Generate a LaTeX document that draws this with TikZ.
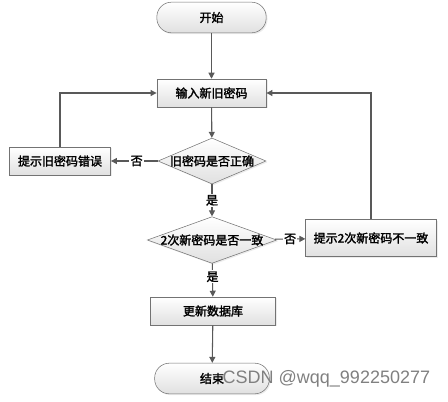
\documentclass[tikz,border=0pt]{standalone}
\usepackage{fontspec}
\newfontfamily\cjk[AutoFakeBold=2]{Noto Sans CJK SC}
\newfontfamily\wmfont{Liberation Sans}
\usetikzlibrary{shapes.geometric,arrows.meta,shadows}

\tikzset{
	box/.style={draw=black!55, rectangle, top color=white, bottom color=black!12,
		drop shadow={shadow xshift=1pt, shadow yshift=-1pt, fill=black!15},
		font=\cjk\bfseries\fontsize{9}{9}\selectfont, minimum height=21pt, inner sep=2pt},
	term/.style={box, rounded corners=11pt, minimum height=23pt},
	check/.style={draw=black!55, diamond, top color=white, bottom color=black!12,
		drop shadow={shadow xshift=1pt, shadow yshift=-1pt, fill=black!15},
		inner sep=0pt},
	flow/.style={draw=black!65, line width=0.8pt, -{Triangle[width=4.5pt,length=4.5pt]}},
	tag/.style={fill=white, inner sep=1pt, font=\cjk\bfseries\fontsize{9}{9}\selectfont}
}

\begin{document}
\begin{tikzpicture}[x=0.75pt, y=-0.75pt]
	\useasboundingbox (0,0) rectangle (448,401);
	
	% main column
	\node[term, minimum width=82pt] (start) at (211.5,17.5) {开始};
	\node[box, minimum width=82pt] (input) at (211.5,93) {输入新旧密码};
	\node[check, minimum width=81pt, minimum height=34.5pt,
		label={[font=\cjk\bfseries\fontsize{9}{9}\selectfont]center:旧密码是否正确}] (oldok) at (212,161) {};
	\node[check, minimum width=97pt, minimum height=35pt,
		label={[font=\cjk\bfseries\fontsize{9}{9}\selectfont]center:2次新密码是否一致}] (newok) at (212,240) {};
	\node[box, minimum width=94pt] (update) at (213,311) {更新数据库};
	\node[term, minimum width=86pt] (stop) at (212,378.5) {结束};
	
	% side boxes
	\node[box, minimum width=76pt] (olderr) at (60,161) {提示旧密码错误};
	\node[box, minimum width=98pt, minimum height=28pt] (newerr) at (371,238) {提示2次新密码不一致};
	
	% connectors
	\draw[flow] (start) -- (input);
	\draw[flow] (input) -- (oldok);
	\draw[flow] (oldok) -- node[tag, pos=0.45] {否} (olderr);
	\draw[flow] (olderr.north) |- (input.west);
	\draw[flow] (oldok) -- node[tag] {是} (newok);
	\draw[flow] (newok) -- node[tag] {否} (newerr);
	\draw[flow] (newerr.north) |- (input.east);
	\draw[flow] (newok) -- node[tag, pos=0.4] {是} (update);
	\draw[flow] (update) -- (stop);
	
	% watermark
	\node[text=black!50, font=\wmfont\fontsize{13.5}{13.5}\selectfont, anchor=west] (mark) at (218,379) {CSDN @wqq\_992250277};
\end{tikzpicture}
\end{document}
